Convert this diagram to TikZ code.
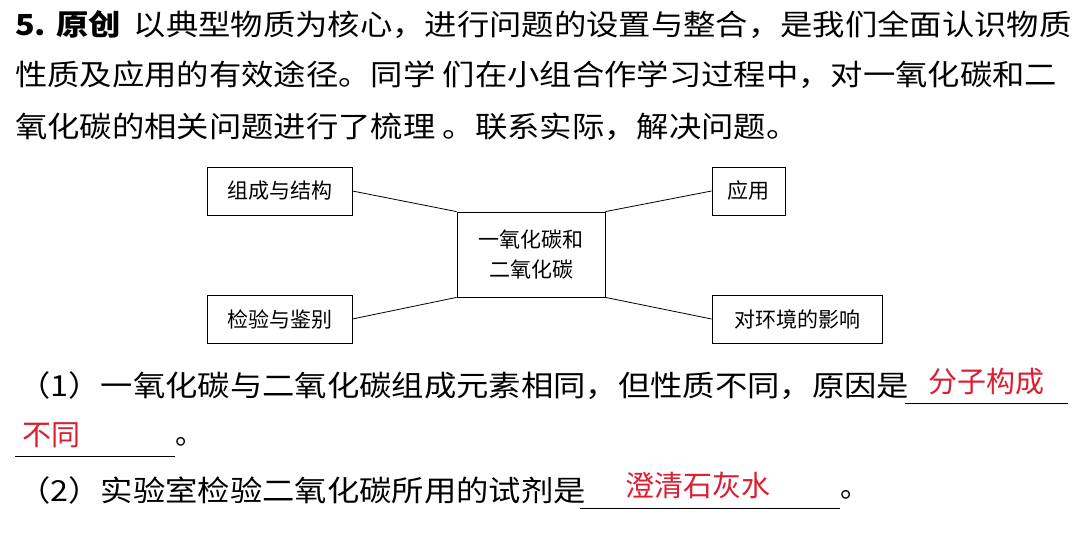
\documentclass[tikz,border=0pt]{standalone}
\usepackage{fontspec}
\setmainfont{Noto Sans CJK SC}
\newcommand{\widetxt}[1]{\scalebox{1.115}[1]{#1}}
\begin{document}
\begin{tikzpicture}[x=1pt,y=-1pt,
  txt/.style={anchor=west,inner sep=0pt,font=\fontsize{29}{30}\selectfont},
  ans/.style={txt,text={rgb,255:red,220;green,30;blue,50}},
  bx/.style={draw,thick,inner sep=0pt,font=\fontsize{21}{30}\selectfont},
  ln/.style={thick}]
\useasboundingbox[fill=white] (0,0) rectangle (1080,537);
\node[txt] (l1) at (15,25) {\widetxt{\textbf{5. 原创}\hspace{0.4em}以典型物质为核心，进行问题的设置与整合，是我们全面认识物质}};
\node[txt] (l2) at (15,75) {\widetxt{性质及应用的有效途径。同学 们在小组合作学习过程中，对一氧化碳和二}};
\node[txt] (l3) at (15,127) {\widetxt{氧化碳的相关问题进行了梳理 。联系实际，解决问题。}};
\node[bx,minimum width=145,minimum height=48] (a) at (279.5,191) {组成与结构};
\node[bx,minimum width=73,minimum height=48] (b) at (748.5,191) {应用};
\node[bx,minimum width=148,minimum height=85,align=center] (c) at (531,254.5) {一氧化碳和\\二氧化碳};
\node[bx,minimum width=145,minimum height=48] (d) at (279.5,319) {检验与鉴别};
\node[bx,minimum width=170,minimum height=48] (e) at (797,319) {对环境的影响};
\draw[ln] (a.east) -- (c.north west);
\draw[ln] (d.east) -- (c.south west);
\draw[ln] (c.north east) -- (b.west);
\draw[ln] (c.south east) -- (e.west);
\node[txt] (q1) at (18,386) {\widetxt{（1）一氧化碳与二氧化碳组成元素相同，但性质不同，原因是}};
\coordinate (u1a) at (905,403); \coordinate (u1b) at (1068,403);
\draw[ln] (u1a) -- (u1b);
\node[ans] (a1) at (928,382) {分子构成};
\node[ans] (a2) at (22,435) {不同};
\coordinate (u2a) at (15,456); \coordinate (u2b) at (175,456);
\draw[ln] (u2a) -- (u2b);
\node[txt] (p1) at (175,442) {。};
\node[txt] (q2) at (18,490) {\widetxt{（2）实验室检验二氧化碳所用的试剂是}};
\coordinate (u3a) at (580,508); \coordinate (u3b) at (840,508);
\draw[ln] (u3a) -- (u3b);
\node[ans] (a3) at (625,485) {澄清石灰水};
\node[txt] (p2) at (840,495) {。};
\end{tikzpicture}
\end{document}
